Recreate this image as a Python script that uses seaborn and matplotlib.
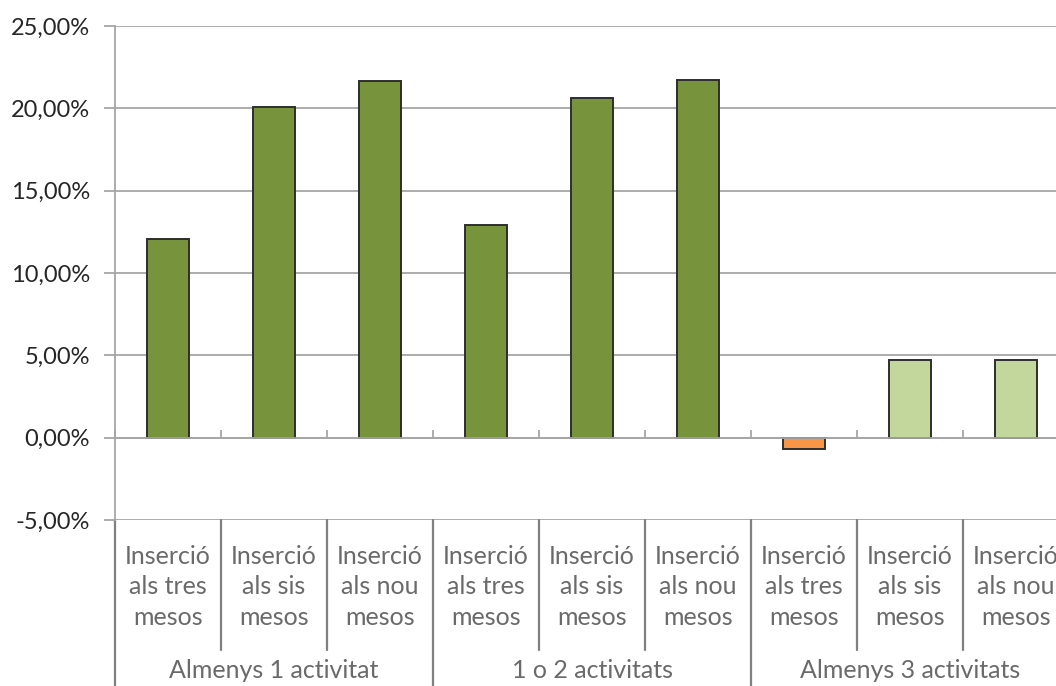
import numpy as np
import pandas as pd
import matplotlib
matplotlib.use("Agg")
import matplotlib.pyplot as plt
import matplotlib.transforms as mtransforms
from matplotlib.ticker import FuncFormatter, FixedLocator
import seaborn as sns

# dades
groups = ["Almenys 1 activitat", "1 o 2 activitats", "Almenys 3 activitats"]
periods = ["Inserció\nals tres\nmesos", "Inserció\nals sis\nmesos", "Inserció\nals nou\nmesos"]
values = [0.1204, 0.2007, 0.2165,
          0.1290, 0.2062, 0.2170,
          -0.0067, 0.0474, 0.0474]
bar_colors = ["#77933C", "#77933C", "#77933C",
              "#77933C", "#77933C", "#77933C",
              "#F79646", "#C3D69B", "#C3D69B"]

keys = [f"{g}|{p}" for g in groups for p in periods]
df = pd.DataFrame({"key": keys, "valor": values})

sns.set_theme(style="white")
plt.rcParams["font.family"] = ["Lato", "DejaVu Sans"]

fig = plt.figure(figsize=(10.56, 6.86), dpi=100)
ax = fig.add_axes([115 / 1056, 166 / 686, 954 / 1056, 494 / 686])

sns.barplot(data=df, x="key", y="valor", hue="key", palette=bar_colors,
            legend=False, width=0.4, edgecolor="#2E2E2E", linewidth=1.4,
            saturation=1, ax=ax)

ax.set_xlim(-0.5, len(keys) - 0.5)
ax.set_ylim(-0.05, 0.25)
ax.set_yticks(np.arange(-0.05, 0.2501, 0.05))
ax.yaxis.set_major_formatter(FuncFormatter(lambda v, _: f"{v*100:.2f}%".replace(".", ",")))
ax.grid(axis="y", color="#A6A6A6", linewidth=1.3)
ax.set_axisbelow(True)
ax.set_xlabel("")
ax.set_ylabel("")

for s in ["top", "right"]:
    ax.spines[s].set_visible(False)
ax.spines["left"].set_color("#A6A6A6")
ax.spines["left"].set_linewidth(1.3)
ax.spines["bottom"].set_position(("data", 0))
ax.spines["bottom"].set_color("#A6A6A6")
ax.spines["bottom"].set_linewidth(1.3)

ax.tick_params(axis="y", which="major", left=True, length=8, width=1.3,
               color="#A6A6A6", labelsize=17, labelcolor="#262626", pad=10)
ax.set_xticks(range(len(keys)))
ax.set_xticklabels([])
ax.tick_params(axis="x", which="major", length=0)
ax.xaxis.set_minor_locator(FixedLocator(np.arange(-0.5, len(keys), 1.0)))
ax.tick_params(axis="x", which="minor", bottom=True, direction="in", length=6,
               width=1.3, color="#A6A6A6")

# etiquetes de categories en dos nivells
trans = mtransforms.blended_transform_factory(ax.transData, fig.transFigure)
y_top = 166 / 686
txt_color = "#6A6A6A"
for i, k in enumerate(keys):
    ax.text(i, (686 - 587) / 686, k.split("|")[1], transform=trans, ha="center",
            va="center", fontsize=18, color=txt_color, linespacing=1.38, clip_on=False)
for j, g in enumerate(groups):
    ax.text(3 * j + 1, (686 - 670) / 686, g, transform=trans, ha="center",
            va="center", fontsize=18, color=txt_color, clip_on=False)

for b in np.arange(-0.5, len(keys), 1.0):
    is_group = int(round(b + 0.5)) % 3 == 0
    y_end = 0 if is_group else (686 - 650) / 686
    ax.plot([b, b], [y_top, y_end], transform=trans, color="#808080",
            linewidth=1.6, clip_on=False)

fig.savefig("out.png", dpi=100)
